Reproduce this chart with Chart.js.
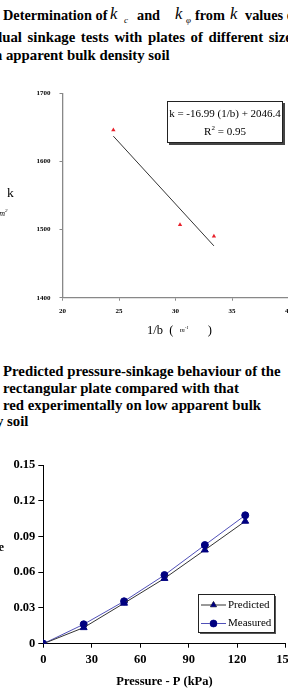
<!DOCTYPE html>
<html>
<head>
<meta charset="utf-8">
<script src="https://cdn.jsdelivr.net/npm/chart.js@4"></script>
<style>
  html, body { margin:0; padding:0; width:288px; height:689px; overflow:hidden; background:#fff; }
  .t { position:absolute; white-space:nowrap; line-height:1; font-family:"Liberation Serif", serif; color:#000; }
  .h { font-weight:bold; font-size:14.8px; }
  .h1 { font-weight:bold; font-size:14.3px; }
  .ki { font-style:italic; font-weight:normal; font-size:16.5px; }
  .sub { font-style:italic; font-weight:normal; font-size:9px; }
  canvas { position:absolute; }
  #eqbox { position:absolute; left:167px; top:101px; width:114px; height:40px; border:1px solid #222; background:#fff;
           box-shadow:2px 2px 0 #444; font-family:"Liberation Serif", serif; font-size:11px; text-align:center; line-height:1; }
</style>
</head>
<body>
<!-- heading 1 -->
<div class="t h1" style="left:3px;top:8px;">Determination of</div>
<div class="t ki" style="left:110px;top:6px;">k</div>
<div class="t sub" style="left:124px;top:16px;">c</div>
<div class="t h1" style="left:137px;top:8px;">and</div>
<div class="t ki" style="left:175px;top:6px;">k</div>
<div class="t sub" style="left:186px;top:16px;">φ</div>
<div class="t h1" style="left:195px;top:8px;">from</div>
<div class="t ki" style="left:230px;top:6px;">k</div>
<div class="t h1" style="left:245px;top:8px;">values o</div>
<div class="t h" style="left:-6px;top:30px;word-spacing:1.9px;">dual sinkage tests with plates of different size</div>
<div class="t h" style="left:-6px;top:48px;">n apparent bulk density soil</div>

<!-- chart 1 -->
<canvas id="c1" width="300" height="260" style="left:0;top:80px;"></canvas>
<div class="t" style="left:7px;top:186px;font-size:13.5px;">k</div>
<div class="t" style="left:-3px;top:208px;font-size:8px;font-style:italic;">/m<sup style="font-size:5px">2</sup></div>
<div id="eqbox"><div style="margin-top:6px;">k = -16.99 (1/b) + 2046.4</div><div style="margin-top:6px;">R<sup style="font-size:7px">2</sup> = 0.95</div></div>
<div class="t" style="left:147px;top:324px;font-size:12.5px;">1/b&nbsp; (&nbsp; <span style="font-style:italic;font-size:7px;position:relative;top:-2px;">m<sup style="font-size:5px">-1</sup></span>&nbsp;&nbsp;&nbsp;&nbsp;&nbsp; )</div>

<!-- heading 2 -->
<div class="t h" style="left:3px;top:364px;">Predicted pressure-sinkage behaviour of the</div>
<div class="t h" style="left:3px;top:381px;">rectangular plate compared with that</div>
<div class="t h" style="left:3px;top:398px;">red experimentally on low apparent bulk</div>
<div class="t h" style="left:-4px;top:414px;">y soil</div>

<!-- chart 2 -->
<canvas id="c2" width="300" height="239" style="left:0;top:450px;"></canvas>
<div class="t" style="right:284px;top:541px;font-size:12.5px;font-weight:bold;">Sinkage</div>

<script>
// ---- Chart 1 data ----
const invB = [24.5, 30.4, 33.4];
const kValues = [1646, 1507, 1490];
const trendX = [24.5, 33.4];
const trendY = [1637, 1476];
const xTicks1 = [20, 25, 30, 35, 40];
const yTicks1 = [1400, 1500, 1600, 1700];

// ---- Chart 2 data ----
const pressure = [0, 25, 50, 75, 100, 125];
const predicted = [0, 0.0135, 0.034, 0.0548, 0.0787, 0.1028];
const measured = [0, 0.0163, 0.0356, 0.0576, 0.0828, 0.1078];
const xTicks2 = [0, 30, 60, 90, 120, 150];
const yTicks2 = [0, 0.03, 0.06, 0.09, 0.12, 0.15];
const seriesNames = ['Predicted', 'Measured'];

const serif = 'Liberation Serif';

new Chart(document.getElementById('c1'), {
  type: 'scatter',
  data: {
    datasets: [
      { data: invB.map((x, i) => ({ x, y: kValues[i] })), pointStyle: 'triangle', pointRadius: 2.5,
        backgroundColor: '#e8202a', borderColor: '#e8202a', borderWidth: 0, showLine: false },
      { type: 'line', data: trendX.map((x, i) => ({ x, y: trendY[i] })), pointRadius: 0,
        borderColor: '#333', borderWidth: 1, showLine: true, fill: false }
    ]
  },
  options: {
    responsive: false, animation: false,
    layout: { padding: { left: 0, top: 7.3, right: 11.5, bottom: 0 } },
    plugins: { legend: { display: false }, tooltip: { enabled: false } },
    scales: {
      x: { type: 'linear', min: 20, max: 40,
        afterBuildTicks: s => { s.ticks = xTicks1.map(v => ({ value: v })); },
        afterFit: s => { s.height = 42.3; },
        grid: { drawOnChartArea: false, drawTicks: true, tickLength: 3, color: '#888' },
        border: { display: true, color: '#888', width: 1.3 },
        ticks: { padding: 6, color: '#000', font: { family: serif, size: 7, weight: 'bold' }, maxRotation: 0,
          callback: v => String(v) } },
      y: { min: 1400, max: 1700,
        afterBuildTicks: s => { s.ticks = yTicks1.map(v => ({ value: v })); },
        afterFit: s => { s.width = 62.5; },
        grid: { drawOnChartArea: false, drawTicks: true, tickLength: 3, color: '#888' },
        border: { display: true, color: '#888', width: 1.3 },
        ticks: { padding: 9, color: '#000', font: { family: serif, size: 7, weight: 'bold' },
          callback: v => String(v) } }
    }
  }
});

const legendPlugin = {
  id: 'boxLegend',
  afterDraw(chart) {
    const ctx = chart.ctx;
    const L = 198, T = 144, W = 76, H = 38;
    ctx.save();
    ctx.fillStyle = '#555';
    ctx.fillRect(L + 2, T + 2, W, H);
    ctx.fillStyle = '#fff';
    ctx.fillRect(L, T, W, H);
    ctx.strokeStyle = '#222'; ctx.lineWidth = 1;
    ctx.strokeRect(L + 0.5, T + 0.5, W, H);
    chart.data.datasets.forEach((ds, i) => {
      const y = T + 11 + i * 18.5;
      ctx.strokeStyle = ds.borderColor; ctx.lineWidth = 1;
      ctx.beginPath(); ctx.moveTo(L + 3, y); ctx.lineTo(L + 28, y); ctx.stroke();
      Chart.helpers.drawPoint(ctx, { pointStyle: ds.pointStyle, radius: 3.5, rotation: 0, borderWidth: 1 }, L + 15.5, y);
      ctx.fillStyle = '#000080';
      ctx.fill();
      ctx.fillStyle = '#000';
      ctx.font = '11px "' + serif + '"';
      ctx.textBaseline = 'middle';
      ctx.fillText(ds.label, L + 30, y);
    });
    ctx.restore();
  }
};

new Chart(document.getElementById('c2'), {
  type: 'line',
  data: {
    datasets: [
      { label: seriesNames[0], data: pressure.map((x, i) => ({ x, y: predicted[i] })), borderColor: '#333',
        borderWidth: 1, pointStyle: 'triangle', pointRadius: 4, backgroundColor: '#000080', pointBorderColor: '#000080', tension: 0 },
      { label: seriesNames[1], data: pressure.map((x, i) => ({ x, y: measured[i] })), borderColor: '#5050b8',
        borderWidth: 1, pointStyle: 'circle', pointRadius: 3.5, backgroundColor: '#000080', pointBorderColor: '#000080', tension: 0 }
    ]
  },
  options: {
    responsive: false, animation: false,
    layout: { padding: { left: 0, top: 15, right: 14, bottom: 0 } },
    plugins: { legend: { display: false }, tooltip: { enabled: false } },
    scales: {
      x: { type: 'linear', min: 0, max: 150,
        afterBuildTicks: s => { s.ticks = xTicks2.map(v => ({ value: v })); },
        afterFit: s => { s.height = 45.3; },
        grid: { drawOnChartArea: false, drawTicks: true, tickLength: 4, color: '#000' },
        border: { display: true, color: '#000', width: 1 },
        ticks: { padding: 5, color: '#000', font: { family: serif, size: 12.5, weight: 'bold' }, maxRotation: 0,
          callback: v => String(v) },
        title: { display: true, text: 'Pressure - P (kPa)', color: '#000', padding: { top: 6, bottom: 0 },
          font: { family: serif, size: 12.5, weight: 'bold' } } },
      y: { min: 0, max: 0.15,
        afterBuildTicks: s => { s.ticks = yTicks2.map(v => ({ value: v })); },
        afterFit: s => { s.width = 43.3; },
        grid: { drawOnChartArea: false, drawTicks: true, tickLength: 5, color: '#000' },
        border: { display: true, color: '#000', width: 1 },
        ticks: { padding: 3, color: '#000', font: { family: serif, size: 12.5, weight: 'bold' },
          callback: v => (v === 0 ? '0' : v.toFixed(2)) } }
    }
  },
  plugins: [legendPlugin]
});
</script>
</body>
</html>
